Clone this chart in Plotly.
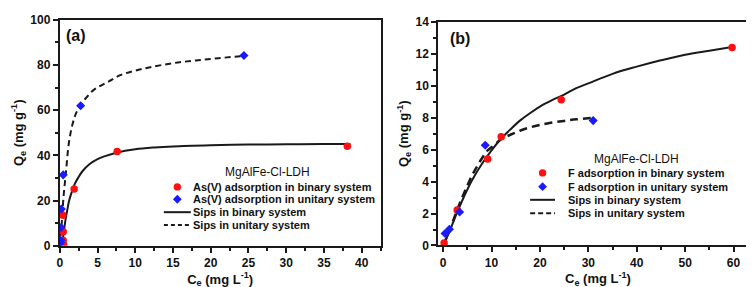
import plotly.graph_objects as go

# ---------------- data: panel (a) As(V) ----------------
as_bin_ce = [0.50, 0.45, 0.45, 0.40, 1.90, 7.60, 38.1]
as_bin_qe = [0.5, 2.4, 6.2, 13.5, 25.1, 41.7, 44.1]
as_uni_ce = [0.08, 0.12, 0.15, 0.20, 0.45, 2.76, 24.4]
as_uni_qe = [1.4, 2.5, 8.1, 16.3, 31.4, 62.0, 84.2]

as_sips_bin_ce = [0.4, 0.6, 0.8, 1.0, 1.2, 1.5, 2.0, 2.5, 3.0, 4.0, 5.0, 6.0, 7.5,
                  10, 12.5, 15, 20, 25, 30, 35, 38.5]
as_sips_bin_qe = [3.0, 8.0, 12.5, 16.0, 19.5, 23.0, 27.5, 30.5, 33.0, 36.3, 38.4, 39.7,
                  41.2, 42.7, 43.5, 44.0, 44.5, 44.8, 44.9, 45.0, 45.1]
as_sips_uni_ce = [0.02, 0.05, 0.15, 0.3, 0.5, 0.8, 1.2, 1.7, 2.2, 2.8, 3.5, 4.5, 5.5,
                  6.5, 8, 10, 12, 15, 18, 21, 24.5]
as_sips_uni_qe = [0.0, 2.0, 6.0, 12.0, 22.0, 32.0, 45.5, 54.0, 59.0, 62.5, 65.5, 69.0,
                  71.0, 72.7, 75.5, 77.5, 79.0, 80.8, 82.0, 83.0, 84.0]

# ---------------- data: panel (b) F ----------------
f_bin_ce = [0.2, 2.9, 9.2, 12.0, 24.4, 59.7]
f_bin_qe = [0.15, 2.22, 5.42, 6.81, 9.13, 12.4]
f_uni_ce = [0.4, 1.3, 3.4, 8.7, 31.0]
f_uni_qe = [0.75, 1.02, 2.1, 6.28, 7.82]

f_sips_bin_ce = [0, 1, 2, 3, 4, 5, 6, 8, 10, 12, 14, 16, 18, 20, 22.5, 25, 27.5, 30,
                 35, 40, 45, 50, 55, 60]
f_sips_bin_qe = [0, 0.65, 1.4, 2.15, 2.85, 3.5, 4.1, 5.1, 5.95, 6.7, 7.3, 7.85, 8.3,
                 8.7, 9.1, 9.45, 9.85, 10.15, 10.75, 11.2, 11.6, 11.95, 12.2, 12.45]
f_sips_uni_ce = [0, 1, 2, 3, 4, 5, 6, 7, 8, 9, 10, 12, 14, 16, 18, 20, 22.5, 25, 27.5, 30.5]
f_sips_uni_qe = [0, 0.7, 1.5, 2.3, 3.05, 3.75, 4.4, 4.95, 5.45, 5.9, 6.15, 6.65, 6.95,
                 7.2, 7.4, 7.55, 7.7, 7.8, 7.9, 7.98]

legend_title = "MgAlFe-Cl-LDH"
legend_a = ["As(V) adsorption in binary system", "As(V) adsorption in unitary system",
            "Sips in binary system", "Sips in unitary system"]
legend_b = ["F adsorption in binary system", "F adsorption in unitary system",
            "Sips in binary system", "Sips in unitary system"]

RED = "#ff1010"
BLUE = "#1a1aff"
INK = "#1a1a1a"
FONT = "Arial, Liberation Sans, sans-serif"
W, H = 754, 287

fig = go.Figure()

def add_panel(xa, ya, sb_x, sb_y, su_x, su_y, b_x, b_y, u_x, u_y, dash, dw):
    fig.add_trace(go.Scatter(x=sb_x, y=sb_y, mode="lines", line=dict(color=INK, width=2),
                             xaxis=xa, yaxis=ya, showlegend=False, line_shape="spline"))
    fig.add_trace(go.Scatter(x=su_x, y=su_y, mode="lines",
                             line=dict(color=INK, width=dw, dash=dash),
                             xaxis=xa, yaxis=ya, showlegend=False, line_shape="spline"))
    fig.add_trace(go.Scatter(x=b_x, y=b_y, mode="markers",
                             marker=dict(color=RED, size=7.5, symbol="circle"),
                             xaxis=xa, yaxis=ya, showlegend=False))
    fig.add_trace(go.Scatter(x=u_x, y=u_y, mode="markers",
                             marker=dict(color=BLUE, size=7, symbol="diamond"),
                             xaxis=xa, yaxis=ya, showlegend=False))

add_panel("x", "y", as_sips_bin_ce, as_sips_bin_qe, as_sips_uni_ce, as_sips_uni_qe,
          as_bin_ce, as_bin_qe, as_uni_ce, as_uni_qe, "6px,4px", 2)
add_panel("x2", "y2", f_sips_bin_ce, f_sips_bin_qe, f_sips_uni_ce, f_sips_uni_qe,
          f_bin_ce, f_bin_qe, f_uni_ce, f_uni_qe, "8px,5px", 2.5)

tickfont = dict(family=FONT, size=12, color="#111", weight="bold")
titlefont = dict(family=FONT, size=13, color="#111", weight="bold")

def xax(domain, rng, dtick, mdtick, anchor):
    return dict(domain=domain, range=rng, dtick=dtick, tick0=0, showgrid=False,
                zeroline=False, showline=True, linewidth=2, linecolor=INK, mirror=True,
                ticks="outside", ticklen=5, tickwidth=1.5, tickcolor=INK,
                minor=dict(ticks="outside", ticklen=3, tickwidth=1.5, tickcolor=INK,
                           dtick=mdtick, tick0=0, showgrid=False),
                tickfont=tickfont, anchor=anchor,
                title=dict(text="C<sub>e</sub> (mg L<sup>-1</sup>)", font=titlefont, standoff=5))

def yax(domain, rng, dtick, mdtick, anchor):
    return dict(domain=domain, range=rng, dtick=dtick, tick0=0, showgrid=False,
                zeroline=False, showline=True, linewidth=2, linecolor=INK, mirror=True,
                ticks="outside", ticklen=5, tickwidth=1.5, tickcolor=INK,
                minor=dict(ticks="outside", ticklen=3, tickwidth=1.5, tickcolor=INK,
                           dtick=mdtick, tick0=0, showgrid=False),
                tickfont=tickfont, anchor=anchor,
                title=dict(text="Q<sub>e</sub> (mg g<sup>-1</sup>)", font=titlefont, standoff=4))

fig.update_layout(
    width=W, height=H, margin=dict(l=0, r=0, t=0, b=0),
    paper_bgcolor="white", plot_bgcolor="white", showlegend=False,
    font=dict(family=FONT, color="#111", size=12),
    xaxis=xax([49 / W, 371 / W], [0, 42.5], 5, 2.5, "y"),
    yaxis=yax([1 - 242.7 / H, 1 - 5 / H], [0, 100], 20, 10, "x"),
    xaxis2=xax([429 / W, 749.7 / W], [-1, 65], 10, 5, "y2"),
    yaxis2=yax([1 - 242.3 / H, 1 - 7.3 / H], [0, 14], 2, 1, "x2"),
)

def px(x):
    return x / W

def py(y):
    return 1 - y / H

annotations = []
shapes = []

def panel_label(text, cx, cy):
    annotations.append(dict(text=text, x=px(cx), y=py(cy), xref="paper",
                            yref="paper", showarrow=False, xanchor="center", yanchor="middle",
                            font=dict(family=FONT, size=16, color="#111", weight="bold")))

panel_label("(a)", 65, 22)
panel_label("(b)", 451, 25)

def manual_legend(labels, title_cx, title_cy, sym_cx, text_x, rows, line_len, dash):
    annotations.append(dict(text=legend_title, x=px(title_cx), y=py(title_cy), xref="paper",
                            yref="paper", showarrow=False, xanchor="center", yanchor="middle",
                            font=dict(family=FONT, size=12, color="#111")))
    for lab, ry in zip(labels, rows):
        annotations.append(dict(text=lab, x=px(text_x), y=py(ry),
                                xref="paper", yref="paper", showarrow=False,
                                xanchor="left", yanchor="middle",
                                font=dict(family=FONT, size=11, color="#111",
                                          weight="bold")))
    # red circle
    shapes.append(dict(type="circle", xref="paper", yref="paper", xsizemode="pixel",
                       ysizemode="pixel", xanchor=px(sym_cx), yanchor=py(rows[0]),
                       x0=-3.7, x1=3.7, y0=-3.7, y1=3.7, fillcolor=RED,
                       line=dict(width=0)))
    # blue diamond
    shapes.append(dict(type="path", xref="paper", yref="paper", xsizemode="pixel",
                       ysizemode="pixel", xanchor=px(sym_cx), yanchor=py(rows[1]),
                       path="M0,4.4 L4.4,0 L0,-4.4 L-4.4,0 Z", fillcolor=BLUE,
                       line=dict(width=0)))
    half = line_len / 2
    shapes.append(dict(type="line", xref="paper", yref="paper",
                       x0=px(sym_cx - half), x1=px(sym_cx + half), y0=py(rows[2]), y1=py(rows[2]),
                       line=dict(color=INK, width=2)))
    shapes.append(dict(type="line", xref="paper", yref="paper",
                       x0=px(sym_cx - half), x1=px(sym_cx + half), y0=py(rows[3]), y1=py(rows[3]),
                       line=dict(color=INK, width=2, dash=dash)))

manual_legend(legend_a, 258, 165, 167, 181, [180.7, 193.7, 207.3, 220.7], 27, "4px,3px")
manual_legend(legend_b, 628, 151, 533.7, 557, [166, 180.5, 194.3, 208.3], 25, "5px,3px")

fig.update_layout(annotations=annotations, shapes=shapes)

fig.write_html("out.html")
